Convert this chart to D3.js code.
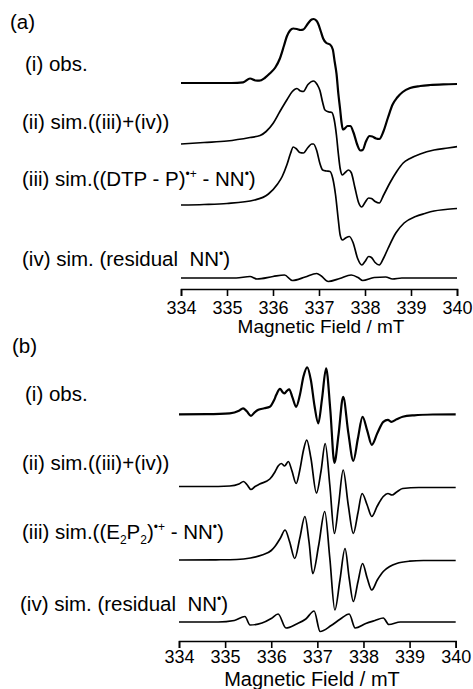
<!DOCTYPE html>
<html>
<head>
<meta charset="utf-8">
<script src="https://cdnjs.cloudflare.com/ajax/libs/d3/7.8.5/d3.min.js"></script>
<style>
  body { margin: 0; background: #fff; }
  svg { display: block; }
  text { font-family: "Liberation Sans", Arial, Helvetica, sans-serif; fill: #000; white-space: pre; }
</style>
</head>
<body>
<div id="chart"></div>
<script>
const W = 473, H = 689;

const fieldTicks = [334, 335, 336, 337, 338, 339, 340];
const axisTitle = "Magnetic Field / mT";

// panel (a) spectra, [field / mT, intensity / a.u.]
const aObs = [[334.0,0.05],[334.6,0.05],[335.1,0.05],[335.35,0.12],[335.5,0.5],[335.62,0.3],[335.7,0.28],[335.82,0.55],[335.93,1.0],[336.05,1.6],[336.15,2.5],[336.24,3.8],[336.30,4.7],[336.37,5.3],[336.44,5.5],[336.52,5.45],[336.60,5.35],[336.66,5.4],[336.76,6.0],[336.84,6.4],[336.88,6.45],[336.94,6.3],[336.98,6.0],[337.04,5.2],[337.09,4.5],[337.16,4.05],[337.24,3.9],[337.30,3.4],[337.34,2.2],[337.38,1.0],[337.42,-1.0],[337.46,-2.6],[337.49,-3.9],[337.52,-4.6],[337.56,-4.5],[337.62,-4.25],[337.68,-4.25],[337.75,-4.9],[337.83,-6.1],[337.90,-6.7],[337.95,-6.65],[338.02,-5.8],[338.10,-5.25],[338.16,-5.3],[338.24,-5.5],[338.31,-5.55],[338.40,-4.8],[338.50,-3.4],[338.60,-2.1],[338.70,-1.4],[338.82,-0.85],[338.98,-0.45],[339.20,-0.25],[339.41,-0.15],[339.70,-0.08],[340.0,-0.05]];
const aSum = [[334.0,0.15],[334.5,0.3],[335.0,0.45],[335.5,0.8],[335.72,1.0],[335.85,1.4],[336.0,2.2],[336.15,3.4],[336.30,4.55],[336.42,5.4],[336.52,5.7],[336.60,5.45],[336.66,5.4],[336.76,6.1],[336.88,6.45],[336.96,6.1],[337.02,5.5],[337.08,4.3],[337.13,3.55],[337.22,3.35],[337.28,3.3],[337.33,2.6],[337.38,1.0],[337.42,-0.8],[337.46,-2.3],[337.51,-2.95],[337.57,-2.7],[337.64,-2.45],[337.70,-2.7],[337.78,-4.2],[337.86,-5.7],[337.93,-6.15],[338.0,-5.7],[338.08,-5.25],[338.14,-5.3],[338.22,-5.6],[338.31,-5.75],[338.40,-5.0],[338.54,-3.75],[338.69,-2.6],[338.83,-1.75],[338.98,-1.3],[339.2,-0.85],[339.5,-0.45],[339.8,-0.25],[340.0,-0.12]];
const aSim = [[334.0,0.15],[334.5,0.2],[335.0,0.3],[335.6,0.65],[335.9,1.25],[336.1,2.25],[336.2,3.0],[336.3,4.15],[336.38,5.3],[336.44,5.95],[336.5,5.8],[336.58,5.4],[336.66,5.35],[336.76,5.9],[336.84,6.25],[336.88,6.25],[336.95,5.6],[337.02,4.3],[337.08,3.65],[337.16,3.55],[337.24,3.5],[337.3,2.8],[337.36,1.15],[337.42,-1.35],[337.46,-2.85],[337.51,-3.35],[337.58,-3.15],[337.66,-3.0],[337.74,-3.6],[337.84,-5.2],[337.93,-5.85],[338.0,-5.5],[338.08,-5.0],[338.14,-5.1],[338.22,-5.6],[338.31,-5.85],[338.4,-5.2],[338.5,-4.2],[338.67,-2.65],[338.85,-1.65],[339.1,-1.0],[339.3,-0.7],[339.5,-0.45],[339.75,-0.3],[340.0,-0.2]];
const aRes = [[334.0,0],[335.2,0],[335.5,0.15],[335.65,-0.1],[336.0,0.15],[336.25,0.3],[336.42,-0.25],[336.7,0.1],[336.95,0.45],[337.05,0.2],[337.2,-0.35],[337.45,-0.05],[337.7,0.3],[337.85,0.05],[337.95,-0.25],[338.2,0.05],[338.45,0.1],[338.6,-0.1],[338.8,0],[340.0,0]];

// panel (b) spectra
const bObs = [[334.0,0],[334.6,0.02],[335.1,0.1],[335.3,0.35],[335.39,0.6],[335.47,0.3],[335.56,-0.15],[335.64,0.2],[335.72,0.45],[335.85,0.6],[335.97,0.75],[336.06,1.4],[336.11,1.95],[336.19,2.55],[336.25,2.2],[336.29,2.1],[336.34,2.35],[336.39,2.5],[336.46,1.7],[336.54,0.75],[336.62,1.9],[336.7,3.8],[336.78,4.7],[336.86,3.4],[336.94,0.8],[337.02,-0.9],[337.1,1.5],[337.19,4.6],[337.28,0.5],[337.37,-4.85],[337.46,-2.0],[337.56,1.75],[337.67,-1.8],[337.78,-4.65],[337.88,-2.4],[337.98,-0.25],[338.08,-1.6],[338.18,-3.05],[338.3,-1.9],[338.43,-0.75],[338.53,-0.55],[338.6,-0.75],[338.72,-0.5],[338.85,-0.25],[339.1,-0.1],[339.5,-0.02],[340.0,0]];
const bSum = [[334.0,0.05],[334.6,0.05],[335.1,0.1],[335.3,0.3],[335.4,0.55],[335.48,0.2],[335.56,-0.25],[335.65,0.05],[335.75,0.3],[335.97,0.8],[336.08,1.5],[336.15,2.1],[336.22,2.35],[336.29,2.1],[336.37,2.55],[336.45,1.6],[336.54,0.35],[336.62,1.7],[336.7,3.7],[336.77,4.7],[336.86,2.9],[336.98,-0.6],[337.08,1.6],[337.17,4.35],[337.27,0.2],[337.37,-4.65],[337.46,-1.8],[337.56,1.7],[337.67,-1.8],[337.78,-4.65],[337.88,-2.6],[337.97,-0.65],[338.08,-1.8],[338.18,-2.95],[338.3,-1.9],[338.43,-0.95],[338.53,-0.65],[338.62,-0.8],[338.72,-0.5],[338.85,-0.15],[339.2,-0.05],[340.0,-0.05]];
const bSim = [[334.0,0],[334.8,0.02],[335.25,0.05],[335.55,0.2],[335.8,0.5],[336.0,0.95],[336.08,1.35],[336.2,2.2],[336.3,3.0],[336.4,1.8],[336.51,0.15],[336.62,2.2],[336.73,4.35],[336.82,1.8],[336.9,-1.35],[337.03,1.5],[337.16,4.85],[337.27,0.2],[337.38,-5.0],[337.49,-2.0],[337.6,1.15],[337.69,-1.8],[337.78,-4.15],[337.88,-2.2],[337.98,-0.35],[338.08,-1.8],[338.18,-3.0],[338.3,-2.0],[338.43,-1.15],[338.57,-0.65],[338.72,-0.35],[339.0,-0.12],[339.3,-0.05],[340.0,-0.05]];
const bRes = [[334.0,0],[334.85,0],[335.2,0.15],[335.43,0.55],[335.54,-0.3],[335.8,-0.1],[336.0,0.35],[336.15,0.8],[336.32,-0.6],[336.55,-0.2],[336.75,0.3],[336.93,1.1],[337.06,-0.95],[337.3,-0.35],[337.5,0.3],[337.69,0.8],[337.82,-0.6],[338.05,-0.15],[338.25,0.15],[338.43,0.4],[338.55,-0.25],[338.8,0],[340.0,0]];

// trace labels, split into runs (sup / sub)
const labelsA = [
  [{t: "(i) obs."}],
  [{t: "(ii) sim.((iii)+(iv))"}],
  [{t: "(iii) sim.((DTP - P)"}, {t: "\u2022+", sup: true}, {t: " - NN"}, {t: "\u2022", sup: true}, {t: ")"}],
  [{t: "(iv) sim. (residual  NN"}, {t: "\u2022", sup: true}, {t: ")"}]
];
const labelsB = [
  [{t: "(i) obs."}],
  [{t: "(ii) sim.((iii)+(iv))"}],
  [{t: "(iii) sim.((E"}, {t: "2", sub: true}, {t: "P"}, {t: "2", sub: true}, {t: ")"}, {t: "\u2022+", sup: true}, {t: " - NN"}, {t: "\u2022", sup: true}, {t: ")"}],
  [{t: "(iv) sim. (residual  NN"}, {t: "\u2022", sup: true}, {t: ")"}]
];

// layout
const panels = [
  { tag: "(a)", tagPos: [10, 29], xRange: [181, 457], axisY: 289, tickPad: 5, titleX: 321, titleY: 333, titleSize: 19,
    base: [83.5, 145.5, 206.5, 278], traces: [aObs, aSum, aSim, aRes], labels: labelsA,
    labelPos: [[25, 71], [22, 129], [22, 186], [22, 266]] },
  { tag: "(b)", tagPos: [12, 353], xRange: [179, 455.7], axisY: 641, tickPad: 2, titleX: 312, titleY: 686, titleSize: 20,
    base: [414.3, 487, 560, 622], traces: [bObs, bSum, bSim, bRes], labels: labelsB,
    labelPos: [[25, 401], [22, 470], [22, 539], [20, 611]] }
];

const svg = d3.select("#chart").append("svg")
  .attr("width", W)
  .attr("height", H);

const yAmp = d3.scaleLinear().domain([0, 1]).range([0, -10]); // 10 px per unit

panels.forEach(p => {
  const x = d3.scaleLinear().domain([334, 340]).range(p.xRange);

  svg.append("text") //panel tag
    .attr("x", p.tagPos[0]).attr("y", p.tagPos[1])
    .attr("font-size", 20.5)
    .text(p.tag);

  p.traces.forEach((tr, i) => {
    const line = d3.line()
      .x(d => x(d[0]))
      .y(d => p.base[i] + yAmp(d[1]))
      .curve(d3.curveMonotoneX);
    svg.append("path")
      .datum(tr)
      .attr("d", line)
      .attr("fill", "none")
      .attr("stroke", "#000")
      .attr("stroke-width", i === 0 ? 2.2 : 1.7)
      .attr("stroke-linejoin", "round");

    const lbl = svg.append("text")
      .attr("x", p.labelPos[i][0]).attr("y", p.labelPos[i][1])
      .attr("font-size", 20.5);
    let shift = 0;
    p.labels[i].forEach(seg => {
      let target = seg.sup ? -8 : seg.sub ? 5 : 0;
      lbl.append("tspan")
        .attr("dy", target - shift)
        .attr("font-size", (seg.sup || seg.sub) ? 12 : 20.5)
        .text(seg.t);
      shift = target;
    });
  });

  const axis = d3.axisBottom(x)
    .tickValues(fieldTicks)
    .tickSize(7)
    .tickPadding(p.tickPad)
    .tickFormat(d3.format("d"));
  const g = svg.append("g")
    .attr("transform", `translate(0,${p.axisY})`)
    .call(axis);
  g.select(".domain").attr("stroke-width", 1.6);
  g.selectAll(".tick line").attr("stroke-width", 1.6);
  g.selectAll(".tick text")
    .attr("font-size", 18)
    .attr("font-family", "'Liberation Sans', Arial, sans-serif");

  svg.append("text") //axis title
    .attr("x", p.titleX).attr("y", p.titleY)
    .attr("text-anchor", "middle")
    .attr("font-size", p.titleSize)
    .text(axisTitle);
});
</script>
</body>
</html>
